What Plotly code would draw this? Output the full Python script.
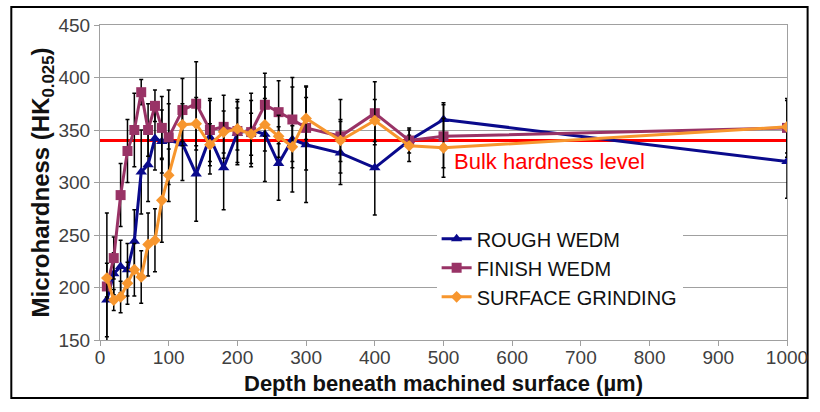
import plotly.graph_objects as go

depth = [10, 20, 30, 40, 50, 60, 70, 80, 90, 100, 120, 140, 160, 180, 200,
         220, 240, 260, 280, 300, 350, 400, 450, 500, 1000]

rough = [188, 213, 220, 217, 244, 310, 317, 342, 339, 340, 337, 308, 343, 314, 347,
         350, 346, 318, 341, 336, 328, 314, 340, 360, 320]
rough_err = [35, 20, 25, 25, 30, 40, 35, 30, 30, 35, 35, 45, 35, 40, 30,
             35, 45, 35, 50, 55, 30, 45, 12, 16, 35]

finish = [201, 228, 288, 330, 350, 386, 350, 373, 352, 343, 369, 375, 350, 353, 349,
          348, 374, 367, 360, 352, 344, 366, 340, 344, 352]
finish_err = [10, 20, 30, 30, 35, 12, 25, 15, 30, 45, 30, 40, 30, 30, 30,
              30, 30, 30, 40, 40, 35, 30, 5, 30, 28]

grinding = [209, 188, 191, 204, 217, 210, 241, 245, 283, 307, 355, 356, 336, 348, 351,
            346, 355, 344, 334, 361, 340, 359, 335, 333, 353]
grinding_err = [62, 10, 15, 20, 25, 25, 30, 30, 40, 25, 20, 25, 20, 20, 20,
                20, 25, 20, 20, 20, 20, 20, 15, 28, 25]

bulk_level = 340
series_names = ["ROUGH WEDM", "FINISH WEDM", "SURFACE GRINDING"]
x_ticks = [0, 100, 200, 300, 400, 500, 600, 700, 800, 900, 1000]
y_ticks = [150, 200, 250, 300, 350, 400, 450]

FONT = "Liberation Sans, Arial, sans-serif"

fig = go.Figure()

# bulk hardness line
fig.add_trace(go.Scatter(x=[0, 1000], y=[bulk_level, bulk_level], mode="lines",
                         line=dict(color="#FF0000", width=3), showlegend=False,
                         hoverinfo="skip"))

specs = [
    (rough, rough_err, "#0A0A8C", "triangle-up", 10),
    (finish, finish_err, "#993366", "square", 10),
    (grinding, grinding_err, "#F7962E", "diamond", 9),
]
for name, (vals, errs, col, sym, ms) in zip(series_names, specs):
    fig.add_trace(go.Scatter(
        x=depth, y=vals, name=name, mode="lines+markers",
        line=dict(color=col, width=3),
        marker=dict(symbol=sym, size=ms, color=col),
        error_y=dict(type="data", array=errs, visible=True, color="#000000",
                     thickness=1.5, width=2),
    ))

fig.add_annotation(x=512, y=320, text="Bulk hardness level", showarrow=False,
                   xanchor="left", yanchor="middle",
                   font=dict(family=FONT, size=22, color="#FF0000"))

# outer frame
fig.add_shape(type="rect", xref="paper", yref="paper",
              x0=-0.1291, x1=1.030, y0=-0.184, y1=1.057,
              line=dict(color="#000000", width=2), layer="below")

fig.update_layout(
    width=820, height=412,
    margin=dict(l=100, r=23, t=25, b=72),
    paper_bgcolor="white", plot_bgcolor="white",
    font=dict(family=FONT, size=19, color="#404040"),
    legend=dict(x=0.49, y=0.383, xanchor="left", yanchor="top",
                bgcolor="white", font=dict(family=FONT, size=20, color="#111111"),
                tracegroupgap=0, itemwidth=30),
    xaxis=dict(range=[0, 1000], tickvals=x_ticks, showgrid=False,
               showline=True, linecolor="#A0A0A0", linewidth=1, mirror=True,
               ticks="outside", tickcolor="#A0A0A0", ticklen=5,
               zeroline=False, tickfont=dict(size=19), ticklabelstandoff=-5,
               title=dict(text="<b>Depth beneath machined surface (µm)</b>",
                          font=dict(family=FONT, size=22, color="#111111"),
                          standoff=8)),
    yaxis=dict(range=[150, 450], tickvals=y_ticks, showgrid=True,
               gridcolor="#A0A0A0", gridwidth=1,
               showline=True, linecolor="#A0A0A0", linewidth=1, mirror=True,
               ticks="outside", tickcolor="#A0A0A0", ticklen=5,
               zeroline=False, tickfont=dict(size=19),
               title=dict(text="<b>Microhardness (HK<sub>0.025</sub>)</b>",
                          font=dict(family=FONT, size=24, color="#111111"),
                          standoff=2)),
)

fig.write_html("out.html")
